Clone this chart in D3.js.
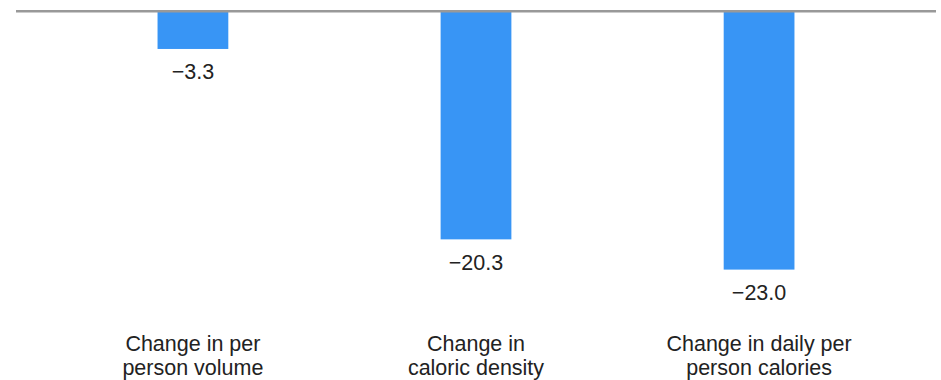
<!DOCTYPE html>
<html>
<head>
<meta charset="utf-8">
<script src="https://cdn.jsdelivr.net/npm/d3@7"></script>
<style>
  html, body { margin: 0; padding: 0; background: #fff; }
  svg { display: block; }
  text { font-family: "Liberation Sans", Arial, sans-serif; fill: #222; }
</style>
</head>
<body>
<svg id="chart" width="941" height="380"></svg>
<script>
const categories = ["Change in per person volume", "Change in caloric density", "Change in daily per person calories"];
const categoryLines = [["Change in per", "person volume"], ["Change in", "caloric density"], ["Change in daily per", "person calories"]];
const values = [-3.3, -20.3, -23.0];
const valueLabels = ["\u22123.3", "\u221220.3", "\u221223.0"];

const svg = d3.select("#chart");

const x = d3.scaleBand()
  .domain(categories)
  .range([16, 936])
  .paddingInner(0.75)
  .paddingOuter(0.5);

const y = d3.scaleLinear()
  .domain([-25, 0])
  .range([292, 12]);

svg.selectAll("rect.bar")
  .data(values)
  .join("rect")
  .attr("class", "bar")
  .attr("x", (d, i) => x(categories[i]))
  .attr("width", x.bandwidth())
  .attr("y", y(0))
  .attr("height", d => y(d) - y(0))
  .attr("fill", "#3895f5");

svg.append("line")
  .attr("x1", 16).attr("x2", 936)
  .attr("y1", y(0) - 0.75).attr("y2", y(0) - 0.75)
  .attr("stroke", "#999")
  .attr("stroke-width", 2.5);

svg.selectAll("text.value")
  .data(values)
  .join("text")
  .attr("class", "value")
  .attr("x", (d, i) => x(categories[i]) + x.bandwidth() / 2)
  .attr("y", d => y(d) + 30.5)
  .attr("text-anchor", "middle")
  .attr("font-size", 21.5)
  .text((d, i) => valueLabels[i]);

const cat = svg.selectAll("text.cat")
  .data(categories)
  .join("text")
  .attr("class", "cat")
  .attr("text-anchor", "middle")
  .attr("font-size", 21.5)
  .attr("x", d => x(d) + x.bandwidth() / 2)
  .attr("y", 350.7);

cat.selectAll("tspan")
  .data((d, i) => categoryLines[i])
  .join("tspan")
  .attr("x", function() { return d3.select(this.parentNode).attr("x"); })
  .attr("dy", (d, j) => j === 0 ? 0 : 24.5)
  .text(d => d);
</script>
</body>
</html>
